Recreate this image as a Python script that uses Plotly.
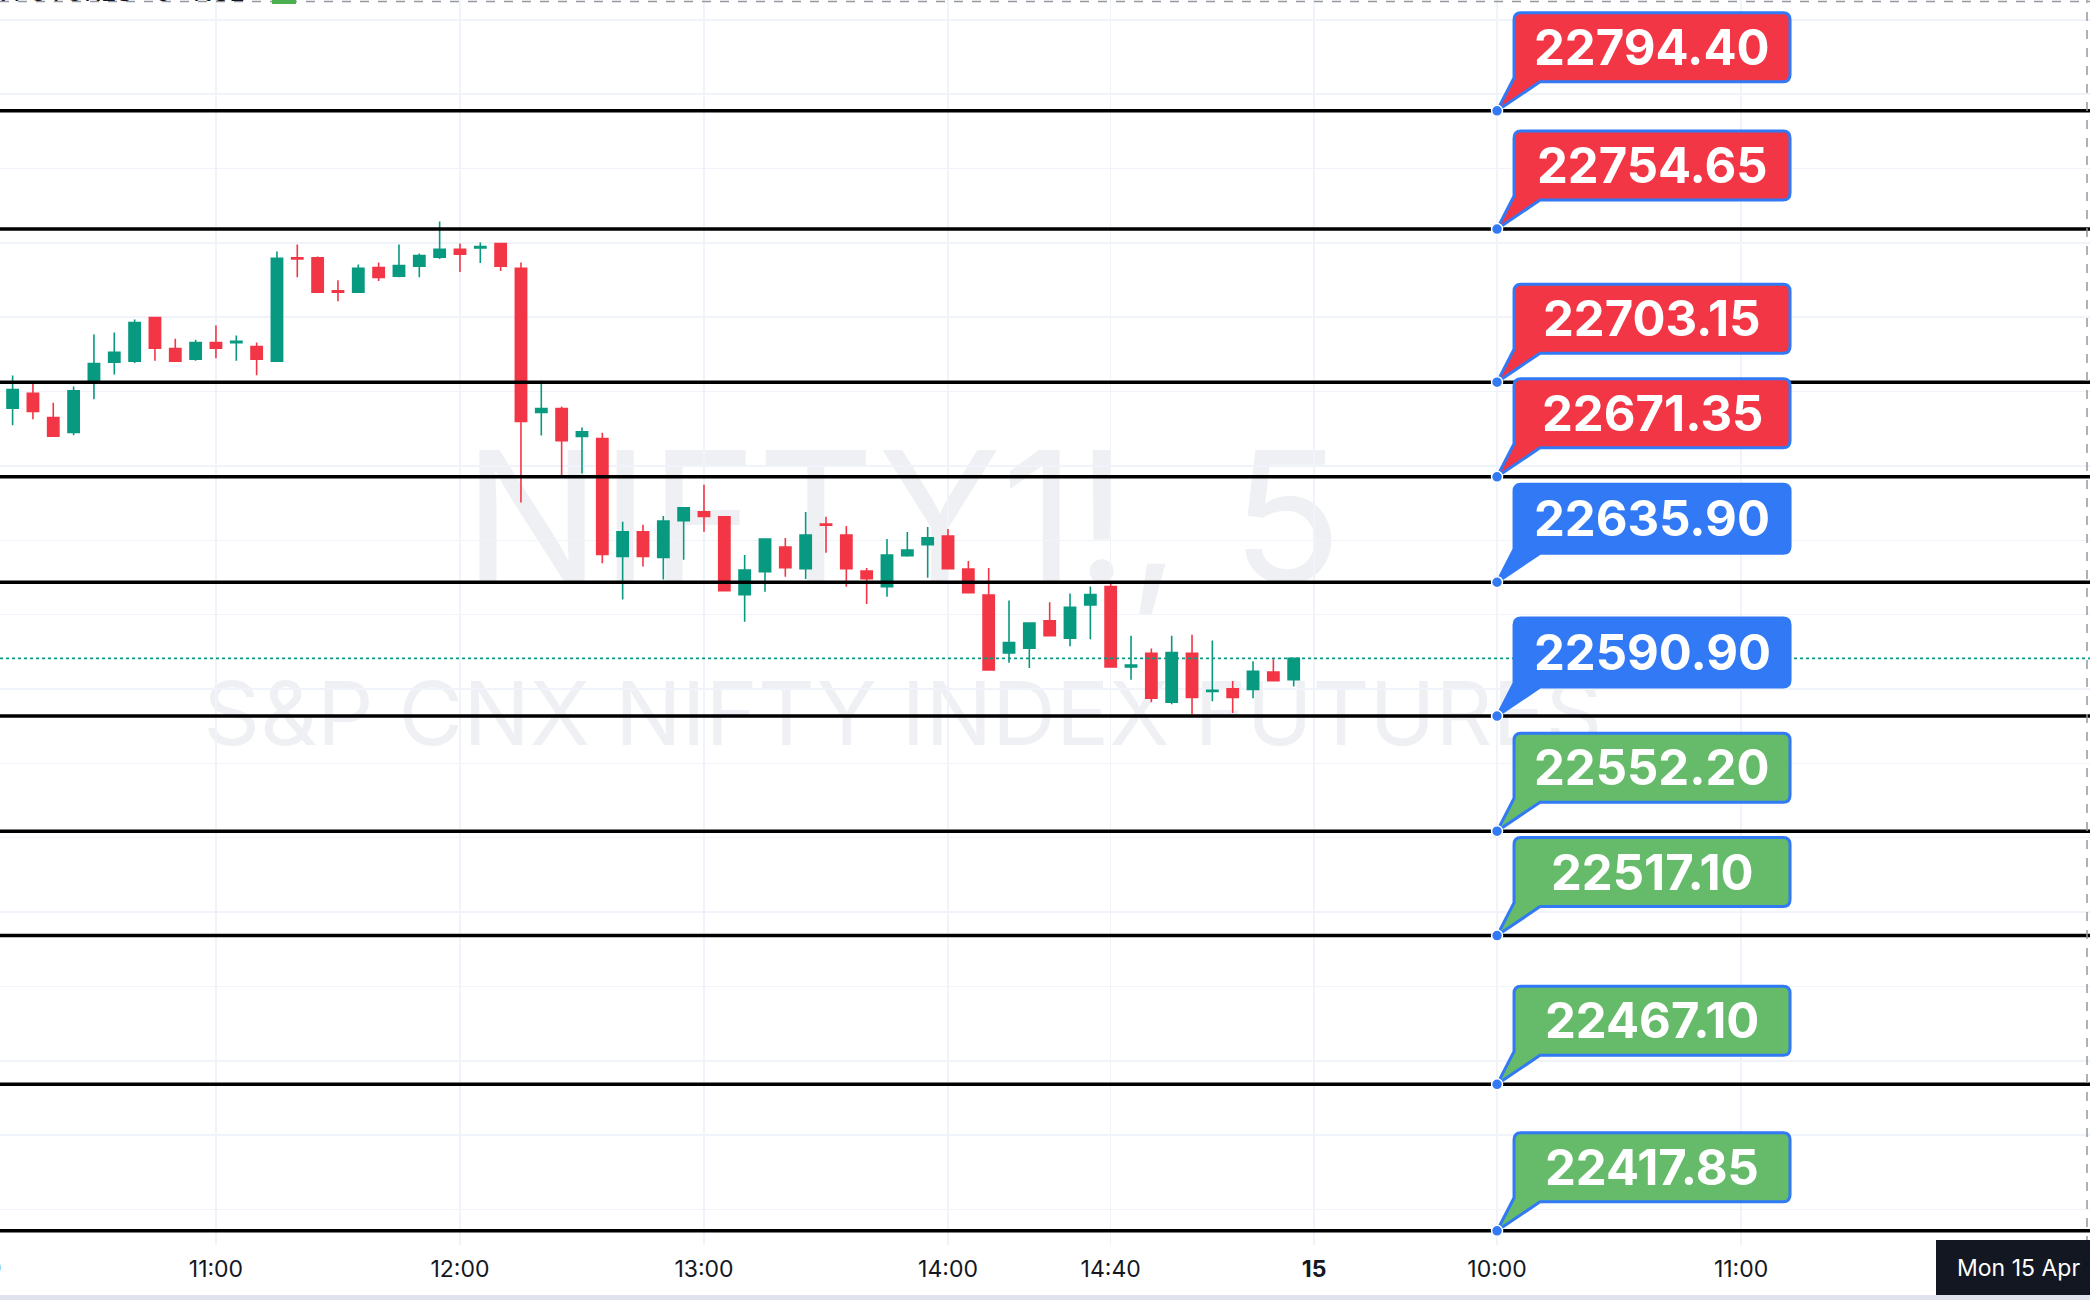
import plotly.graph_objects as go

# ---------------- data ----------------
times = ["10:10", "10:15", "10:20", "10:25", "10:30", "10:35", "10:40", "10:45", "10:50", "10:55",
         "11:00", "11:05", "11:10", "11:15", "11:20", "11:25", "11:30", "11:35", "11:40", "11:45",
         "11:50", "11:55", "12:00", "12:05", "12:10", "12:15", "12:20", "12:25", "12:30", "12:35",
         "12:40", "12:45", "12:50", "12:55", "13:00", "13:05", "13:10", "13:15", "13:20", "13:25",
         "13:30", "13:35", "13:40", "13:45", "13:50", "13:55", "14:00", "14:05", "14:10", "14:15",
         "14:20", "14:25", "14:30", "14:35", "14:40", "14:45", "14:50", "14:55", "15:00", "15:05",
         "15:10", "15:15", "15:20", "15:25"]

opens = [22694.40, 22699.40, 22691.30, 22686.30, 22702.85, 22709.90, 22710.25, 22724.90, 22714.45, 22710.85,
         22716.50, 22716.40, 22715.15, 22710.25, 22745.00, 22745.00, 22733.90, 22733.45, 22741.70, 22738.80,
         22742.15, 22745.15, 22747.80, 22748.30, 22749.80, 22741.45, 22693.00, 22694.30, 22684.90, 22684.20,
         22644.55, 22652.90, 22644.20, 22656.60, 22659.55, 22657.90, 22631.70, 22639.45, 22647.75, 22640.45,
         22655.50, 22651.80, 22639.65, 22634.40, 22644.80, 22648.55, 22651.45, 22640.35, 22631.60, 22612.10,
         22613.75, 22622.90, 22617.05, 22628.30, 22634.45, 22607.45, 22612.00, 22595.55, 22612.00, 22599.20,
         22600.05, 22599.85, 22605.70, 22603.15]

highs = [22705.40, 22703.30, 22696.25, 22701.70, 22719.20, 22719.90, 22724.20, 22725.10, 22717.80, 22717.45,
         22722.20, 22718.85, 22716.50, 22747.10, 22749.45, 22745.40, 22737.40, 22742.70, 22743.40, 22749.45,
         22746.40, 22757.20, 22749.80, 22750.10, 22749.80, 22743.40, 22703.65, 22695.00, 22687.90, 22686.15,
         22656.25, 22655.20, 22658.20, 22660.90, 22668.65, 22657.90, 22645.05, 22650.45, 22650.80, 22659.55,
         22657.90, 22654.80, 22640.70, 22650.45, 22652.80, 22654.50, 22653.80, 22643.00, 22640.70, 22629.80,
         22622.20, 22629.20, 22632.15, 22634.45, 22635.90, 22617.90, 22613.60, 22617.90, 22618.25, 22616.30,
         22602.70, 22609.35, 22610.00, 22610.30]

lows = [22688.70, 22690.70, 22684.90, 22685.35, 22697.40, 22705.75, 22709.60, 22710.40, 22710.25, 22710.40,
        22711.20, 22710.40, 22705.50, 22710.25, 22738.40, 22733.45, 22730.40, 22733.45, 22737.15, 22738.40,
        22738.40, 22744.60, 22740.20, 22743.20, 22740.50, 22662.75, 22685.25, 22671.30, 22672.50, 22642.25,
        22630.10, 22641.20, 22636.80, 22643.50, 22652.90, 22633.05, 22622.60, 22632.70, 22637.75, 22637.00,
        22645.85, 22634.40, 22628.55, 22631.00, 22644.50, 22637.40, 22640.45, 22632.35, 22606.40, 22608.80,
        22607.10, 22617.90, 22614.40, 22616.70, 22607.45, 22603.15, 22595.55, 22594.90, 22591.60, 22595.90,
        22591.90, 22596.90, 22602.80, 22600.85]

closes = [22700.65, 22693.35, 22685.00, 22700.30, 22709.40, 22713.20, 22723.25, 22714.55, 22710.25, 22716.50,
          22714.55, 22716.90, 22710.85, 22744.80, 22744.60, 22733.45, 22733.45, 22741.45, 22738.40, 22742.40,
          22745.70, 22747.80, 22746.20, 22748.75, 22742.15, 22690.00, 22694.30, 22683.50, 22686.50, 22645.25,
          22652.90, 22644.55, 22656.50, 22660.90, 22658.00, 22633.05, 22640.00, 22650.45, 22640.80, 22651.80,
          22655.05, 22640.45, 22637.10, 22645.05, 22646.75, 22650.80, 22640.45, 22632.35, 22606.40, 22615.60,
          22622.20, 22617.90, 22627.50, 22631.80, 22607.45, 22608.10, 22596.90, 22612.30, 22597.20, 22599.60,
          22597.20, 22606.00, 22602.80, 22610.30]

levels = [22794.40, 22754.65, 22703.15, 22671.35, 22635.90, 22590.90, 22552.20, 22517.10, 22467.10, 22417.85]
level_kinds = ["R", "R", "R", "R", "P", "P", "S", "S", "S", "S"]

tick_days = [0, 0, 0, 0, 0, 0, 1, 1, 1]
tick_times = ["10:00", "11:00", "12:00", "13:00", "14:00", "14:40", "09:15", "10:00", "11:00"]
tick_text = ["10:00", "11:00", "12:00", "13:00", "14:00", "14:40", "<b>15</b>", "10:00", "11:00"]
label_day, label_time = 1, "10:00"
crosshair_text = "Mon 15 Apr"

# ---------------- helpers ----------------
SESSION_START = 9 * 60 + 15
BARS_PER_DAY = 75


def slot(day, t):
    h, m = map(int, t.split(":"))
    return (h * 60 + m - SESSION_START) / 5 + BARS_PER_DAY * day


W, H, MB = 2090, 1300, 55
PH = H - MB
X_RANGE = [10.38, 113.16]
Y_RANGE = [22413.08, 22831.65]

UP, DOWN = "#089981", "#F23645"
BLUE = "#3179F5"
KIND_COLOR = {"R": "#F23645", "P": "#3179F5", "S": "#66BB6A"}
GRID = "#F0F3FA"
FONT = "Inter"
WM = "#EFF0F3"

xs = [slot(0, t) for t in times]
anchor_x = slot(label_day, label_time)

fig = go.Figure()
fig.add_trace(go.Candlestick(
    x=xs, open=opens, high=highs, low=lows, close=closes,
    increasing=dict(line=dict(color=UP, width=1.6), fillcolor=UP),
    decreasing=dict(line=dict(color=DOWN, width=1.6), fillcolor=DOWN),
    whiskerwidth=0, hoverinfo="skip", showlegend=False,
))

shapes = []
annotations = []

# watermarks (below candles)
shapes.append(dict(type="rect", xref="paper", yref="paper", x0=0.03, x1=0.834, y0=0.49, y1=0.69,
                   line=dict(width=0), fillcolor="rgba(0,0,0,0)", layer="below",
                   label=dict(text="NIFTY1!, 5", textposition="middle center",
                              font=dict(family=FONT, size=182, color=WM))))
shapes.append(dict(type="rect", xref="paper", yref="paper", x0=0.03, x1=0.834, y0=0.33, y1=0.53,
                   line=dict(width=0), fillcolor="rgba(0,0,0,0)", layer="below",
                   label=dict(text="S&P CNX NIFTY INDEX FUTURES", textposition="middle center",
                              font=dict(family=FONT, size=88.5, color=WM))))

# last price dotted line
shapes.append(dict(type="line", xref="paper", yref="y", x0=0, x1=1, y0=closes[-1], y1=closes[-1],
                   line=dict(color=UP, width=1.6, dash="dot")))

# level lines
for lv in levels:
    shapes.append(dict(type="line", xref="paper", yref="y", x0=0, x1=1, y0=lv, y1=lv,
                       line=dict(color="#000000", width=3.5)))

# callout labels
callout = "M 0,0 L 43,29 L 286,29 Q 293,29 293,36 L 293,91 Q 293,98 286,98 L 24,98 Q 17,98 17,91 L 17,33 Z"
for lv, kind in zip(levels, level_kinds):
    shapes.append(dict(type="path", xref="x", yref="y", xsizemode="pixel", ysizemode="pixel",
                       xanchor=anchor_x, yanchor=lv, path=callout,
                       fillcolor=KIND_COLOR[kind], line=dict(color=BLUE, width=3)))
    shapes.append(dict(type="circle", xref="x", yref="y", xsizemode="pixel", ysizemode="pixel",
                       xanchor=anchor_x, yanchor=lv, x0=-5.5, x1=5.5, y0=-5.5, y1=5.5,
                       fillcolor=BLUE, line=dict(color="#FFFFFF", width=1.5)))
    annotations.append(dict(x=anchor_x, y=lv, xref="x", yref="y", showarrow=False,
                            xshift=155, yshift=63.5, text=f"<b>{lv:.2f}</b>",
                            font=dict(family=FONT, size=49, color="#FFFFFF")))

# crosshair
shapes.append(dict(type="line", xref="paper", yref="paper", x0=0, x1=1, y0=1 - 1.5 / PH, y1=1 - 1.5 / PH,
                   line=dict(color="#9598A1", width=1.5, dash="dash")))
shapes.append(dict(type="line", xref="paper", yref="paper", x0=2087 / W, x1=2087 / W, y0=0, y1=1,
                   line=dict(color="#9598A1", width=1.5, dash="dash")))
shapes.append(dict(type="rect", xref="paper", yref="paper", x0=1936 / W, x1=1.0,
                   y0=-MB / PH, y1=5 / PH, line=dict(width=0), fillcolor="#131722"))
annotations.append(dict(x=1955 / W, y=-23 / PH, xref="paper", yref="paper", xanchor="left",
                        yanchor="middle", showarrow=False, text=crosshair_text,
                        font=dict(family=FONT, size=23, color="#FFFFFF")))

# bottom strip
shapes.append(dict(type="rect", xref="paper", yref="paper", x0=0, x1=1, y0=-MB / PH, y1=-(MB - 5) / PH,
                   line=dict(width=0), fillcolor="#E0E3EB"))

# first (cut-off) time label on the left edge
first_x = (slot(tick_days[0], tick_times[0]) - X_RANGE[0]) / (X_RANGE[1] - X_RANGE[0])
annotations.append(dict(x=first_x, y=-23 / PH, xref="paper", yref="paper", xanchor="center",
                        yanchor="middle", showarrow=False, text=tick_text[0],
                        font=dict(family=FONT, size=23, color="#131722")))

# cut-off legend header at the very top
annotations.append(dict(x=247 / W, y=1 + 9 / PH, xref="paper", yref="paper", xanchor="right",
                        yanchor="middle", showarrow=False, text="S&P CNX NIFTY INDEX FUTURES · 5 · NSE",
                        font=dict(family=FONT, size=26, color="#131722")))
shapes.append(dict(type="rect", xref="paper", yref="paper", x0=272 / W, x1=296 / W,
                   y0=1 - 4 / PH, y1=1 + 20 / PH, line=dict(width=0), fillcolor="#4CAF50"))

fig.update_layout(
    width=W, height=H,
    margin=dict(l=0, r=0, t=0, b=MB),
    paper_bgcolor="#FFFFFF", plot_bgcolor="#FFFFFF",
    shapes=shapes, annotations=annotations,
    boxgap=0.21,
    xaxis=dict(range=X_RANGE, rangeslider=dict(visible=False), showgrid=True, gridcolor=GRID, gridwidth=1.5,
               tickmode="array", tickvals=[slot(d, t) for d, t in zip(tick_days, tick_times)],
               ticktext=tick_text, ticks="", zeroline=False, showline=False, ticklabelstandoff=8,
               tickfont=dict(family=FONT, size=23, color="#131722")),
    yaxis=dict(range=Y_RANGE, showgrid=True, gridcolor=GRID, gridwidth=1.5, tick0=0, dtick=25,
               showticklabels=False, zeroline=False, showline=False, ticks=""),
    showlegend=False,
    hovermode=False,
)

fig.write_html("out.html", config={"displayModeBar": False, "staticPlot": True},
               post_script="document.body.style.margin='0';document.body.style.overflow='hidden';")
